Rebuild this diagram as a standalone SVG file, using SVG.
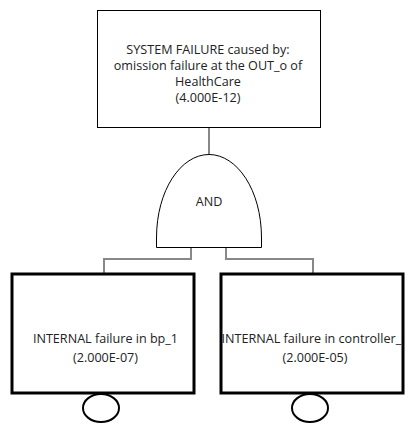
<svg xmlns="http://www.w3.org/2000/svg" width="418" height="433" viewBox="0 0 418 433">
<style>
.t{font-family:"Open Sans","Noto Sans","Liberation Sans",sans-serif;font-size:12.6px;fill:#222;text-anchor:middle}
.c{fill:none;stroke:#888;stroke-width:2}
.be{fill:#fff;stroke:#000;stroke-width:3}
.ev{fill:#fff;stroke:#000;stroke-width:2}
</style>
<defs>
<clipPath id="clipL"><rect x="12" y="274" width="182" height="119"/></clipPath>
<clipPath id="clipR"><rect x="221" y="274" width="182" height="119"/></clipPath>
</defs>
<rect width="418" height="433" fill="#fff"/>
<g id="connectors">
<path class="c" d="M209,127 V155"/>
<path class="c" d="M191,247 V259 H104 V274"/>
<path class="c" d="M226,247 V259 H313 V274"/>
</g>
<g id="top">
<rect x="97.5" y="10.5" width="223" height="117" fill="#fff" stroke="#000" stroke-width="1"/>
<text class="t" x="208" y="54">SYSTEM FAILURE caused by:</text>
<text class="t" x="208" y="70">omission failure at the OUT_o of</text>
<text class="t" x="208" y="86">HealthCare</text>
<text class="t" x="208" y="102">(4.000E-12)</text>
</g>
<g id="and">
<path d="M156.5,247.5 V238 C156.5,190 181,154.5 209,154.5 C237,154.5 261.5,190 261.5,238 V247.5 Z" fill="#fff" stroke="#000" stroke-width="1"/>
<text class="t" x="209" y="206">AND</text>
</g>
<g id="bp1">
<rect class="be" x="12" y="274" width="182" height="119"/>
<g clip-path="url(#clipL)">
<text class="t" x="105.5" y="343">INTERNAL failure in bp_1</text>
<text class="t" x="105.5" y="362">(2.000E-07)</text>
</g>
<ellipse class="ev" cx="101" cy="408" rx="18" ry="14"/>
</g>
<g id="ctrl">
<rect class="be" x="221" y="274" width="182" height="119"/>
<g clip-path="url(#clipR)">
<text class="t" x="315" y="343">INTERNAL failure in controller_1</text>
<text class="t" x="315" y="362">(2.000E-05)</text>
</g>
<ellipse class="ev" cx="310" cy="408" rx="18" ry="14"/>
</g>
</svg>
